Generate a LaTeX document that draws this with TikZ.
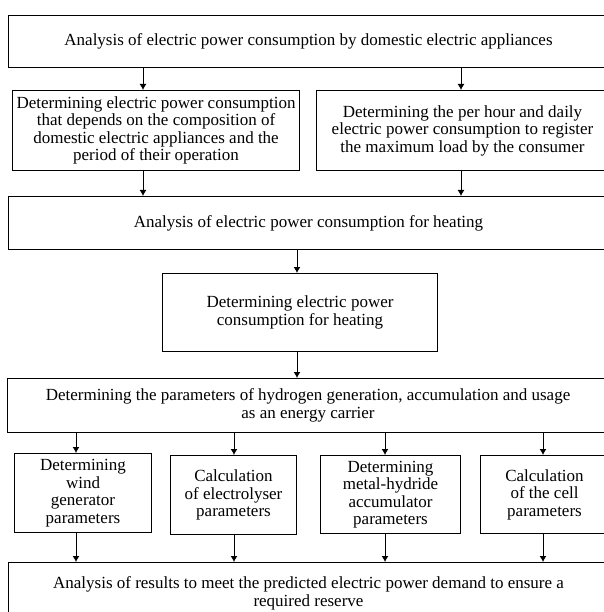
\documentclass[tikz,border=0pt]{standalone}
\usepackage{fontspec}
\setmainfont{Liberation Serif}
\usetikzlibrary{arrows.meta}

\tikzset{
  box/.style={draw, line width=1pt, anchor=north west, align=center, inner sep=0pt,
    font=\fontsize{17}{17.5}\selectfont},
  arr/.style={line width=1pt, -{Latex[length=6pt,width=7pt]}}
}

\begin{document}
\begin{tikzpicture}[x=1pt,y=-1pt]
\useasboundingbox (0,0) rectangle (603,612);

\node[box, minimum width=600pt, minimum height=52pt] (appl) at (8,15)
  {Analysis of electric power consumption by domestic electric appliances};
\node[box, minimum width=287pt, minimum height=80pt] (compos) at (12,90)
  {Determining electric power consumption\\ that depends on the composition of\\ domestic electric appliances and the\\ period of their operation};
\node[box, minimum width=292pt, minimum height=80pt] (hourly) at (316,90)
  {Determining the per hour and daily\\ electric power consumption to register\\ the maximum load by the consumer};
\node[box, minimum width=600pt, minimum height=53pt] (heat) at (8,196)
  {Analysis of electric power consumption for heating};
\node[box, minimum width=275pt, minimum height=78pt] (heatcons) at (162,273)
  {Determining electric power\\ consumption for heating};
\node[box, minimum width=601pt, minimum height=54pt] (hydro) at (7,378)
  {Determining the parameters of hydrogen generation, accumulation and usage\\ as an energy carrier};
\node[box, minimum width=137pt, minimum height=79pt] (wind) at (14,453)
  {Determining\\ wind\\ generator\\ parameters};
\node[box, minimum width=126pt, minimum height=79pt] (electr) at (170,455)
  {Calculation\\ of electrolyser\\ parameters};
\node[box, minimum width=140pt, minimum height=78pt] (metal) at (320,455)
  {Determining\\ metal-hydride\\ accumulator\\ parameters};
\node[box, minimum width=128pt, minimum height=78pt] (cell) at (480,455)
  {Calculation\\ of the cell\\ parameters};
\node[box, minimum width=600pt, minimum height=62pt] (result) at (8,562)
  {Analysis of results to meet the predicted electric power demand to ensure a\\ required reserve};

\draw[arr] (appl.south -| 143,0) -- (compos.north -| 143,0);
\draw[arr] (appl.south -| 461,0) -- (hourly.north -| 461,0);
\draw[arr] (compos.south -| 143,0) -- (heat.north -| 143,0);
\draw[arr] (hourly.south -| 461,0) -- (heat.north -| 461,0);
\draw[arr] (heat.south -| 297,0) -- (heatcons.north -| 297,0);
\draw[arr] (heatcons.south -| 297,0) -- (hydro.north -| 297,0);

\draw[arr] (hydro.south -| 76,0) -- (wind.north -| 76,0);
\draw[arr] (hydro.south -| 234,0) -- (electr.north -| 234,0);
\draw[arr] (hydro.south -| 385,0) -- (metal.north -| 385,0);
\draw[arr] (hydro.south -| 543,0) -- (cell.north -| 543,0);

\draw[arr] (wind.south -| 76,0) -- (result.north -| 76,0);
\draw[arr] (electr.south -| 234,0) -- (result.north -| 234,0);
\draw[arr] (metal.south -| 385,0) -- (result.north -| 385,0);
\draw[arr] (cell.south -| 543,0) -- (result.north -| 543,0);

\end{tikzpicture}
\end{document}
